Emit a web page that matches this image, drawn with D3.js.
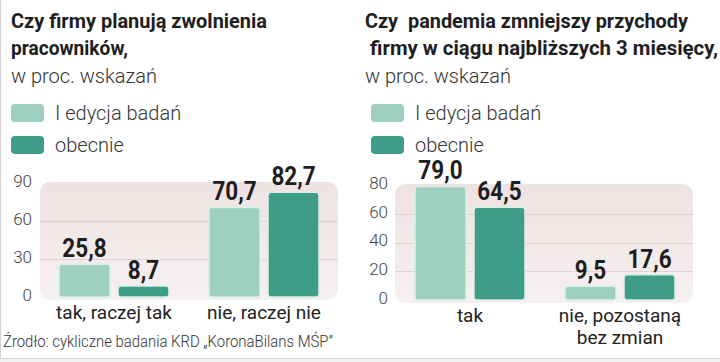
<!DOCTYPE html>
<html>

<head>
    <meta charset="utf-8">
    <script src="https://cdn.jsdelivr.net/npm/d3@7/dist/d3.min.js"></script>
    <style>
        body { margin: 0; background: #fff; }
        text { font-family: Roboto, "Noto Sans", sans-serif; }
    </style>
</head>

<body>
    <div id="my_dataviz"></div>
    <script>

        // ---- data ----
        var seriesNames = ["I edycja badań", "obecnie"];

        var leftTitle = ["Czy firmy planują zwolnienia", "pracowników,"];
        var leftCategories = ["tak, raczej tak", "nie, raczej nie"];
        var leftFirst = [25.8, 70.7];
        var leftNow = [8.7, 82.7];
        var leftTicks = [0, 30, 60, 90];

        var rightTitle = ["Czy  pandemia zmniejszy przychody", " firmy w ciągu najbliższych 3 miesięcy,"];
        var rightCategories = ["tak", "nie, pozostaną\nbez zmian"];
        var rightFirst = [79.0, 9.5];
        var rightNow = [64.5, 17.6];
        var rightTicks = [0, 20, 40, 60, 80];

        var subtitle = "w proc. wskazań";
        var source = "Źrodło: cykliczne badania KRD „KoronaBilans MŚP”";

        var colors = ["#9ecfbf", "#3f9c88"];

        var width = 720, height = 362;

        var svg = d3.select("#my_dataviz")
            .append("svg")
            .attr("width", width)
            .attr("height", height);

        // page frame (left edge + bottom rule)
        svg.append("rect").attr("x", 0).attr("y", 359).attr("width", width).attr("height", 3).attr("fill", "#f2f2f2");
        svg.append("line").attr("x1", 0).attr("x2", width).attr("y1", 358.5).attr("y2", 358.5).attr("stroke", "#d4d4d4");
        svg.append("line").attr("x1", 0.5).attr("x2", 0.5).attr("y1", 0).attr("y2", 359).attr("stroke", "#d4d4d4");

        // background gradient for plot areas
        var grad = svg.append("defs").append("linearGradient")
            .attr("id", "bg").attr("x1", 0).attr("x2", 0).attr("y1", 0).attr("y2", 1);
        grad.append("stop").attr("offset", "0%").attr("stop-color", "#efe2e3");
        grad.append("stop").attr("offset", "100%").attr("stop-color", "#f6f0f0");

        function drawPanel(cfg) {
            var g = svg.append("g");

            // titles
            cfg.title.forEach(function (t, i) {
                g.append("text")
                    .attr("x", cfg.titleX[i])
                    .attr("y", 28 + i * 27)
                    .attr("textLength", cfg.titleLen[i])
                    .attr("lengthAdjust", "spacingAndGlyphs")
                    .style("font-size", "20px")
                    .style("font-weight", 700)
                    .style("white-space", "pre")
                    .attr("fill", "#1e1e1e")
                    .text(t);
            });
            g.append("text")
                .attr("x", cfg.titleX[0])
                .attr("y", 83)
                .style("font-size", "20px")
                .style("font-weight", 300)
                .attr("fill", "#333")
                .text(subtitle);

            // legend
            seriesNames.forEach(function (s, i) {
                g.append("rect")
                    .attr("x", cfg.legendX).attr("y", 104 + i * 32)
                    .attr("width", 33).attr("height", 18)
                    .attr("rx", 4)
                    .attr("fill", colors[i]);
                g.append("text")
                    .attr("x", cfg.legendX + 44).attr("y", 120 + i * 32)
                    .style("font-size", "20px")
                    .style("font-weight", 300)
                    .attr("fill", "#333")
                    .text(s);
            });

            // scales
            var y = d3.scaleLinear()
                .domain([0, cfg.max])
                .range(cfg.yRange);

            var x0 = d3.scaleBand()
                .domain(cfg.categories)
                .range(cfg.xRange)
                .paddingInner(0.267);

            var x1 = d3.scaleBand()
                .domain(seriesNames)
                .range([0, x0.bandwidth()])
                .paddingInner(0.136);

            // plot background
            g.append("rect")
                .attr("x", cfg.bgX[0]).attr("y", y(cfg.max) - 1)
                .attr("width", cfg.bgX[1] - cfg.bgX[0])
                .attr("height", y(0) + 3 - y(cfg.max) + 1)
                .attr("rx", 10)
                .attr("fill", "url(#bg)");

            // gridlines
            g.selectAll(".grid")
                .data(cfg.ticks.filter(function (t) { return t > 0 && t < cfg.max; }))
                .enter().append("line")
                .attr("x1", cfg.bgX[0]).attr("x2", cfg.bgX[1])
                .attr("y1", function (d) { return Math.round(y(d)) + 0.5; })
                .attr("y2", function (d) { return Math.round(y(d)) + 0.5; })
                .attr("stroke", "#e0d2d3");

            // y tick labels
            g.selectAll(".tick")
                .data(cfg.ticks)
                .enter().append("text")
                .attr("x", cfg.tickX)
                .attr("y", function (d) { return y(d) - 2; })
                .attr("dy", "0.35em")
                .attr("text-anchor", "end")
                .style("font-size", "17px")
                .style("font-weight", 300)
                .attr("fill", "#444")
                .text(function (d) { return d; });

            // bars
            var rows = cfg.categories.map(function (c, i) {
                return { cat: c, values: [cfg.first[i], cfg.now[i]] };
            });

            var groups = g.selectAll(".grp")
                .data(rows)
                .enter().append("g")
                .attr("transform", function (d) { return "translate(" + x0(d.cat) + ",0)"; });

            groups.selectAll("rect")
                .data(function (d) { return d.values.map(function (v, i) { return { s: seriesNames[i], v: v, i: i }; }); })
                .enter().append("rect")
                .attr("x", function (d) { return x1(d.s); })
                .attr("y", function (d) { return y(d.v); })
                .attr("width", x1.bandwidth())
                .attr("height", function (d) { return y(0) - y(d.v); })
                .attr("rx", 3)
                .attr("fill", function (d) { return colors[d.i]; })
                .attr("stroke", "#d8efe7")
                .attr("stroke-width", 1.5);

            // value labels, squeezed a bit to look condensed
            groups.selectAll(".val")
                .data(function (d) { return d.values.map(function (v, i) { return { s: seriesNames[i], v: v }; }); })
                .enter().append("text")
                .attr("transform", function (d) {
                    return "translate(" + (x1(d.s) + x1.bandwidth() / 2) + "," + (y(d.v) - 7) + ") scale(0.9,1)";
                })
                .attr("text-anchor", "middle")
                .style("font-size", "25px")
                .style("font-weight", 700)
                .attr("fill", "#1e1e1e")
                .text(function (d) { return d3.format(".1f")(d.v).replace(".", ","); });

            // category labels
            groups.each(function (d) {
                var lines = d.cat.split("\n");
                var t = d3.select(this).append("text")
                    .attr("text-anchor", "middle")
                    .style("font-size", "19px")
                    .attr("fill", "#222");
                lines.forEach(function (l, i) {
                    t.append("tspan")
                        .attr("x", x0.bandwidth() / 2)
                        .attr("y", y(0) + 22 + i * 22)
                        .text(l);
                });
            });
        }

        drawPanel({
            title: leftTitle,
            titleX: [11, 11],
            titleLen: [256, 117],
            legendX: 11,
            categories: leftCategories,
            first: leftFirst,
            now: leftNow,
            ticks: leftTicks,
            max: 90,
            yRange: [297, 183],
            xRange: [59, 319],
            bgX: [40, 338],
            tickX: 32
        });

        drawPanel({
            title: rightTitle,
            titleX: [365, 365],
            titleLen: [323, 353],
            legendX: 371,
            categories: rightCategories,
            first: rightFirst,
            now: rightNow,
            ticks: rightTicks,
            max: 80,
            yRange: [300, 185],
            xRange: [415, 675],
            bgX: [395, 693],
            tickX: 388
        });

        // source note
        svg.append("text")
            .attr("x", 3)
            .attr("y", 347)
            .attr("textLength", 330)
            .attr("lengthAdjust", "spacingAndGlyphs")
            .style("font-size", "16px")
            .style("font-weight", 300)
            .attr("fill", "#333")
            .text(source);

    </script>
</body>

</html>
